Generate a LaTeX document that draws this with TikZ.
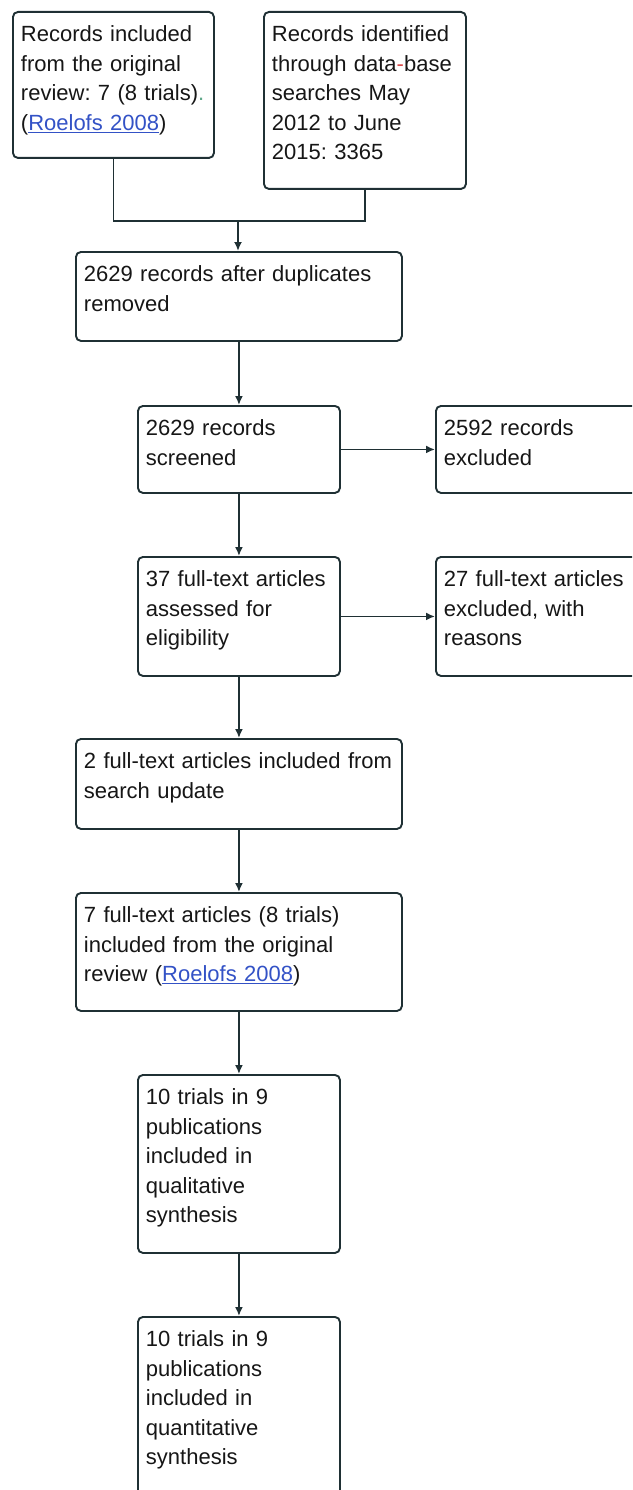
\documentclass[tikz,border=0pt]{standalone}
\usepackage{fontspec}
\setmainfont{Liberation Sans}
\usetikzlibrary{arrows.meta}
\definecolor{edge}{HTML}{1F3034}
\definecolor{ink}{HTML}{161616}
\definecolor{link}{HTML}{3352C6}
\definecolor{mark}{HTML}{D84A4A}
\definecolor{dot}{HTML}{5FA88A}
\newcommand{\reflink}[1]{\textcolor{link}{\underline{#1}}}
\frenchspacing
\hyphenpenalty=10000

\begin{document}
\begin{tikzpicture}[x=1pt, y=-1pt,
box/.style={draw=edge, line width=1.9pt, rounded corners=5pt, anchor=north west,
align=left, inner xsep=8pt, inner ysep=0pt, text=ink,
font=\fontsize{22}{29.5}\selectfont, text height=30pt},
arr/.style={draw=edge, line width=1.9pt, -{Latex[length=9pt, width=8pt]}},
con/.style={draw=edge, line width=1.9pt}]

\useasboundingbox (0,0) rectangle (632,1490);
\clip (0,0) rectangle (632,1490);

% sources
\node[box, text width=185pt, text depth=116pt] (incl) at (12,11)
{Records included\\from the original\\review: 7 (8 trials)\textcolor{dot}{.}\\(\reflink{Roelofs 2008})};
\node[box, text width=186pt, text depth=147pt] (ident) at (263,11)
{Records identified\\through data\textcolor{mark}{-}base\\searches May\\2012 to June\\2015: 3365};

% main column
\node[box, text width=310pt, text depth=59pt] (dedup) at (75,251)
{2629 records after duplicates\\removed};
\node[box, text width=186pt, text depth=57pt] (screen) at (137,405)
{2629 records\\screened};
\node[box, text width=186pt, text depth=89pt] (full) at (137,556)
{37 full-text articles\\assessed for\\eligibility};
\node[box, text width=310pt, text depth=60pt] (update) at (75,738)
{2 full-text articles included from\\search update};
\node[box, text width=310pt, text depth=88pt] (orig) at (75,892)
{7 full-text articles (8 trials)\\included from the original\\review (\reflink{Roelofs 2008})};
\node[box, text width=186pt, text depth=148pt] (qual) at (137,1074)
{10 trials in 9\\publications\\included in\\qualitative\\synthesis};
\node[box, text width=186pt, text depth=164pt] (quant) at (137,1316)
{10 trials in 9\\publications\\included in\\quantitative\\synthesis};

% exclusions
\node[box, text width=194pt, text depth=57pt] (excl) at (435,405)
{2592 records\\excluded};
\node[box, text width=194pt, text depth=89pt] (fullex) at (435,556)
{27 full-text articles\\excluded, with\\reasons};

% connectors
\coordinate (join) at (238,221);
\draw[con] (incl.south) |- (join) -| (ident.south);
\draw[arr] (join) -- (join |- dedup.north);
\draw[arr] (dedup) -- (screen);
\draw[arr] (screen) -- (full);
\draw[arr] (full) -- (update);
\draw[arr] (update) -- (orig);
\draw[arr] (orig) -- (qual);
\draw[arr] (qual) -- (quant);
\draw[arr] (screen) -- (excl);
\draw[arr] (full) -- (fullex);
\end{tikzpicture}
\end{document}
